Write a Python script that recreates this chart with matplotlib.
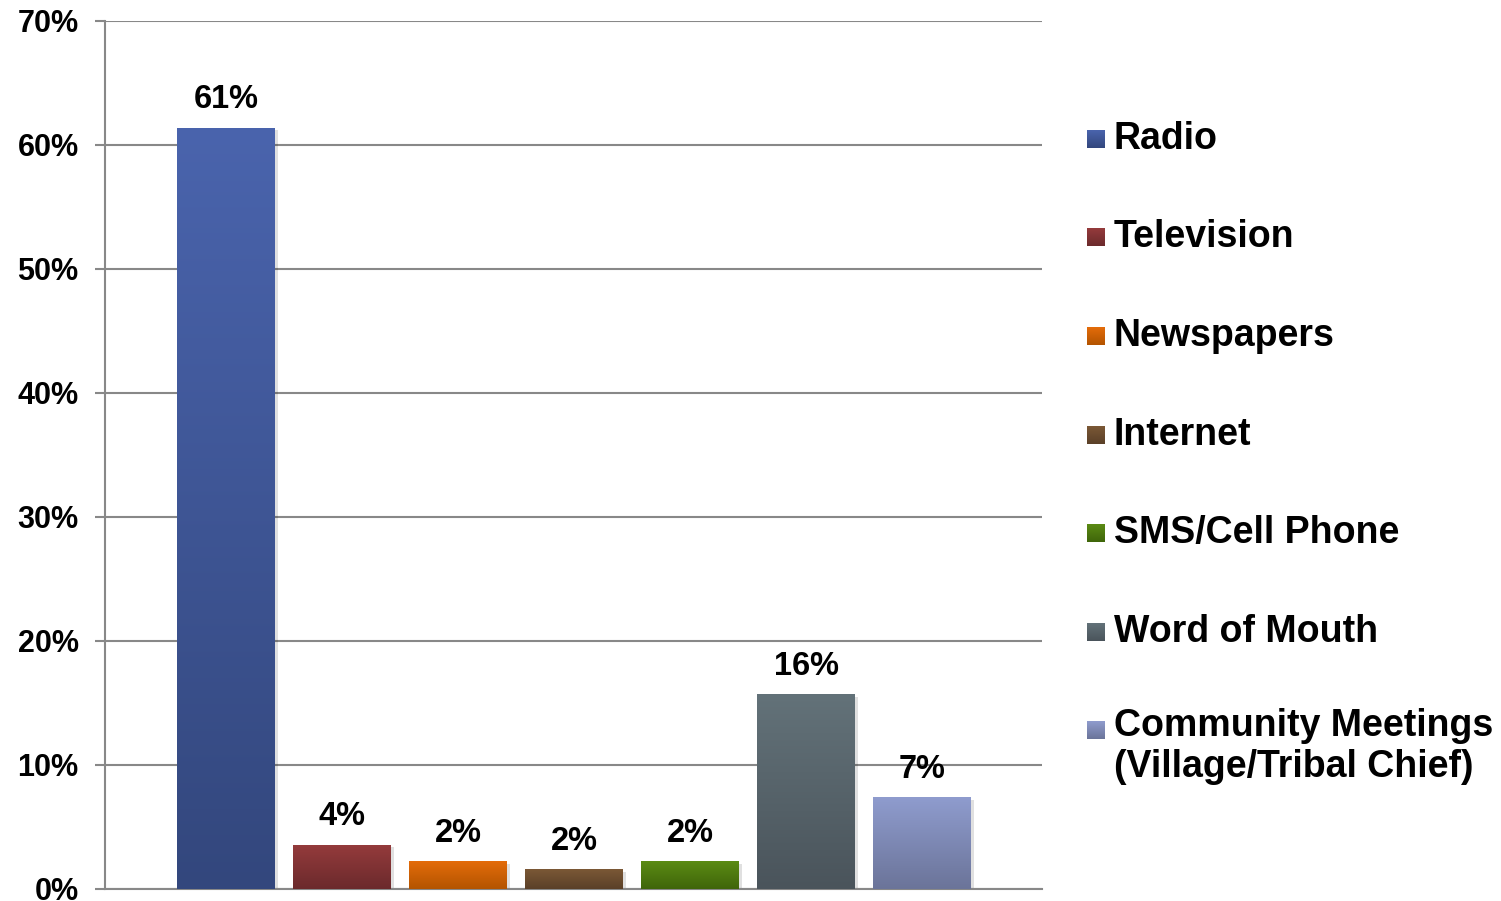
"""Bar chart: main information sources, recreated with matplotlib -> out.png."""

import matplotlib.pyplot as plt
import numpy as np
from matplotlib.colors import LinearSegmentedColormap
from matplotlib.patches import Rectangle

CATEGORIES = [
    "Radio",
    "Television",
    "Newspapers",
    "Internet",
    "SMS/Cell Phone",
    "Word of Mouth",
    "Community Meetings\n(Village/Tribal Chief)",
]
VALUES = [61.4, 3.55, 2.25, 1.6, 2.25, 15.7, 7.4]
TOP_COLORS = ["#4a64ad", "#953b3c", "#e46c0a", "#7b5836", "#5b8b14", "#637279", "#8f9cce"]
BOTTOM_COLORS = ["#33477d", "#6b2a2c", "#b35400", "#5a4028", "#3f650a", "#4a545b", "#6b7499"]
YTICKS = [0, 10, 20, 30, 40, 50, 60, 70]

plt.rcParams["font.family"] = ["Liberation Sans", "DejaVu Sans"]
plt.rcParams["font.weight"] = "bold"

W, H = 1501, 901
fig = plt.figure(figsize=(W / 100, H / 100), dpi=100)
ax = fig.add_axes([105 / W, 12 / H, (1042 - 105) / W, (889 - 21) / H])

x = np.arange(len(VALUES))
width = 0.845
grad = np.linspace(0, 1, 256).reshape(-1, 1)
bars = ax.bar(x, VALUES, width, color="none", edgecolor="none", zorder=3)
for rect, top, bottom in zip(bars, TOP_COLORS, BOTTOM_COLORS):
    x0, h = rect.get_x(), rect.get_height()
    # soft shadow to the right
    ax.add_patch(Rectangle((x0 + 0.025, 0), rect.get_width(), h - 0.2,
                           color="#000000", alpha=0.12, lw=0, zorder=2))
    cmap = LinearSegmentedColormap.from_list("g", [bottom, top])
    im = ax.imshow(grad, cmap=cmap, aspect="auto", origin="lower",
                   extent=(x0, x0 + rect.get_width(), 0, h), zorder=3)
    im.set_clip_path(rect)
    ax.annotate(f"{rect.get_height():.0f}%", (x0 + rect.get_width() / 2, h),
                xytext=(0, 9), textcoords="offset points",
                ha="center", va="bottom", fontsize=23.5, fontweight="bold")

ax.set_xlim(-1.045, 7.035)
ax.set_ylim(0, 70)
ax.set_yticks(YTICKS)
ax.set_yticklabels([f"{t}%" for t in YTICKS])
ax.set_xticks([])
ax.tick_params(axis="y", length=7, width=1.5, color="#888888", pad=12,
               labelsize=22)
ax.grid(axis="y", color="#888888", lw=1.5, zorder=0)
ax.set_axisbelow(True)
for side in ("top", "right"):
    ax.spines[side].set_visible(False)
for side in ("left", "bottom"):
    ax.spines[side].set_color("#888888")
    ax.spines[side].set_linewidth(1.5)

# legend, drawn by hand to match the tall spacing
legend_y = [139, 237, 336, 435, 533, 632, 730]
for label, top, bottom, yp in zip(CATEGORIES, TOP_COLORS, BOTTOM_COLORS, legend_y):
    sq = fig.add_axes([1087 / W, 1 - (yp + 9) / H, 18 / W, 18 / H])
    sq.imshow(grad, cmap=LinearSegmentedColormap.from_list("g", [bottom, top]),
              aspect="auto", origin="lower")
    sq.axis("off")
    if "\n" in label:
        fig.text(1114 / W, 1 - (yp - 22) / H, label, fontsize=27,
                 fontweight="bold", va="top", ha="left", linespacing=1.17)
    else:
        fig.text(1114 / W, 1 - yp / H, label, fontsize=27,
                 fontweight="bold", va="center", ha="left")

fig.savefig("out.png", dpi=100)
